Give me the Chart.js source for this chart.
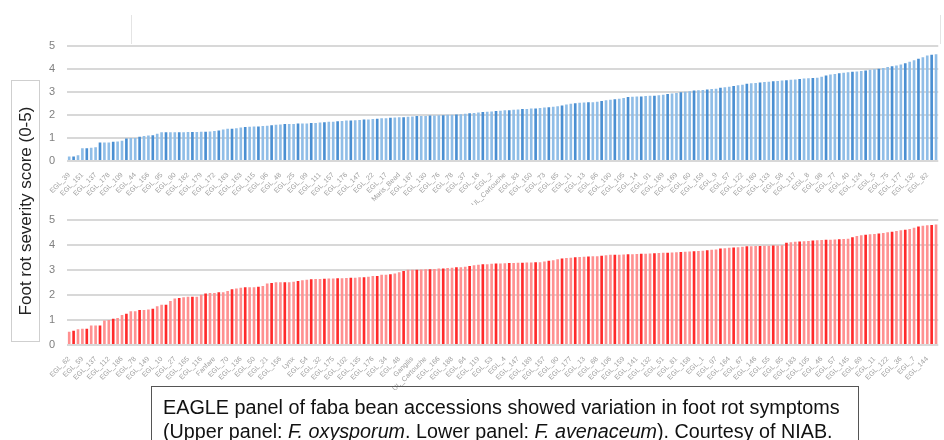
<!DOCTYPE html>
<html>
<head>
<meta charset="utf-8">
<script src="https://cdn.jsdelivr.net/npm/chart.js@4.4.1/dist/chart.umd.min.js"></script>
<style>
  body { margin: 0; background: #fff; width: 944px; height: 440px; overflow: hidden; position: relative; font-family: "Liberation Sans", Arial, sans-serif; }
  canvas { position: absolute; left: 0; }
  #upper { top: 27px; }
  #lower { top: 201px; }
  #ytitle { position: absolute; left: 11px; top: 80px; width: 29px; height: 262px; border: 1px solid #cfcfcf; box-sizing: border-box; }
  #ytitle span { position: absolute; left: 50%; top: 50%; transform: translate(-50%, -50%) rotate(-90deg); white-space: nowrap; font-size: 17px; color: #222; }
  #caption { position: absolute; left: 151px; top: 386px; width: 708px; height: 70px; border: 1px solid #555; box-sizing: border-box; }
  #caption div { position: absolute; left: 11px; white-space: nowrap; font-size: 20px; color: #111; transform-origin: 0 0; }
  .frame { position: absolute; background: #e4e4e4; }
</style>
</head>
<body>
<div class="frame" style="left:131px;top:15px;width:1px;height:29px"></div>
<div class="frame" style="left:940px;top:15px;width:1px;height:29px"></div>
<canvas id="upper" width="944" height="178"></canvas>
<canvas id="lower" width="944" height="189"></canvas>
<div id="ytitle"><span>Foot rot severity score (0-5)</span></div>
<div id="caption">
  <div id="line1" style="top:9px">EAGLE panel of faba bean accessions showed variation in foot rot symptoms</div>
  <div id="line2" style="top:33px">(Upper panel: <i>F. oxysporum</i>. Lower panel: <i>F. avenaceum</i>). Courtesy of NIAB.</div>
</div>
<script>
// every third accession is labelled on the axis
const upperTickLabels = [
  "EGL_39", "EGL_151", "EGL_137", "EGL_178", "EGL_109", "EGL_44", "EGL_156", "EGL_95", "EGL_90", "EGL_182",
  "EGL_179", "EGL_172", "EGL_183", "EGL_163", "EGL_115", "EGL_96", "EGL_48", "EGL_25", "EGL_99", "EGL_111",
  "EGL_157", "EGL_176", "EGL_147", "EGL_22", "EGL_17", "Maris_Bead", "EGL_187", "EGL_130", "EGL_76", "EGL_78",
  "EGL_37", "EGL_16", "EGL_2", "UL_Cartouche", "EGL_83", "EGL_150", "EGL_73", "EGL_85", "EGL_11", "EGL_13",
  "EGL_66", "EGL_190", "EGL_105", "EGL_14", "EGL_91", "EGL_189", "EGL_169", "EGL_60", "EGL_159", "EGL_9",
  "EGL_57", "EGL_122", "EGL_180", "EGL_133", "EGL_58", "EGL_117", "EGL_8", "EGL_98", "EGL_77", "EGL_40",
  "EGL_124", "EGL_5", "EGL_75", "EGL_177", "EGL_132", "EGL_82"
];
const lowerTickLabels = [
  "EGL_62", "EGL_59", "EGL_137", "EGL_112", "EGL_186", "EGL_78", "EGL_149", "EGL_10", "EGL_27", "EGL_165",
  "EGL_116", "Fanfare", "EGL_70", "EGL_136", "EGL_50", "EGL_21", "EGL_156", "Lynx", "EGL_54", "EGL_32",
  "EGL_175", "EGL_102", "EGL_135", "EGL_176", "EGL_34", "EGL_48", "Gangilis", "UL_Cartouche", "EGL_166", "EGL_188",
  "EGL_64", "EGL_119", "EGL_53", "EGL_4", "EGL_147", "EGL_189", "EGL_157", "EGL_90", "EGL_177", "EGL_13",
  "EGL_68", "EGL_106", "EGL_159", "EGL_141", "EGL_132", "EGL_51", "EGL_81", "EGL_158", "EGL_1", "EGL_97",
  "EGL_164", "EGL_67", "EGL_146", "EGL_55", "EGL_65", "EGL_183", "EGL_105", "EGL_46", "EGL_57", "EGL_145",
  "EGL_69", "EGL_11", "EGL_122", "EGL_36", "EGL_7", "EGL_144"
];

// F. oxysporum scores, sorted
const upperScores = [
  0.2, 0.2, 0.25,
  0.55, 0.55, 0.57, 0.6,
  0.8, 0.8, 0.8, 0.83, 0.85, 0.88,
  0.98, 1.0, 1.0, 1.05,
  1.08, 1.1, 1.12, 1.18,
  1.25, 1.25, 1.25, 1.25, 1.25, 1.25, 1.26, 1.26, 1.26, 1.27, 1.27,
  1.28, 1.3, 1.32, 1.37, 1.4,
  1.4, 1.42, 1.45, 1.47, 1.48, 1.5, 1.5,
  1.52, 1.53, 1.55, 1.57, 1.58, 1.6, 1.6, 1.6,
  1.62, 1.62, 1.63, 1.65, 1.65, 1.67, 1.68, 1.7, 1.7, 1.72, 1.73,
  1.75, 1.75, 1.77, 1.78, 1.8, 1.8, 1.82, 1.83, 1.85, 1.85, 1.87, 1.88,
  1.9, 1.9, 1.92, 1.93, 1.95, 1.95, 1.95, 1.97, 1.97, 1.98, 1.98,
  2.0, 2.0, 2.02, 2.03, 2.05, 2.07, 2.08, 2.1, 2.12, 2.13, 2.15,
  2.17, 2.18, 2.2, 2.2, 2.22, 2.23, 2.25, 2.25,
  2.27, 2.28, 2.3, 2.32, 2.33, 2.35, 2.37, 2.4, 2.45, 2.48,
  2.5, 2.52, 2.53, 2.55, 2.55, 2.57, 2.6, 2.63, 2.65,
  2.68, 2.7, 2.73, 2.77, 2.78, 2.8, 2.8, 2.82, 2.83, 2.83,
  2.85, 2.87, 2.9, 2.93, 2.95, 2.98, 3.0,
  3.02, 3.05, 3.07, 3.08, 3.1, 3.12, 3.13,
  3.17, 3.2, 3.22, 3.25, 3.28, 3.3, 3.35,
  3.37, 3.38, 3.4, 3.42, 3.43, 3.45, 3.47, 3.49,
  3.5, 3.52, 3.53, 3.55, 3.57, 3.58, 3.6, 3.61,
  3.65, 3.7, 3.75, 3.77, 3.8, 3.82, 3.85,
  3.87, 3.88, 3.9, 3.92, 3.95, 3.97, 4.0,
  4.03, 4.07, 4.1, 4.14, 4.18, 4.24, 4.3,
  4.37, 4.43, 4.5, 4.57, 4.6, 4.62
];

// F. avenaceum scores, sorted
const lowerScores = [
  0.53, 0.57, 0.63, 0.65, 0.65, 0.78, 0.78, 0.78, 0.98, 1.0, 1.05, 1.08, 1.2,
  1.25, 1.35, 1.35, 1.4, 1.4, 1.42, 1.45, 1.55, 1.6, 1.6, 1.75, 1.85, 1.87,
  1.9, 1.92, 1.92, 1.92, 2.0, 2.05, 2.07, 2.07, 2.1, 2.1, 2.15, 2.22, 2.25,
  2.28, 2.3, 2.3, 2.3, 2.32, 2.35, 2.45, 2.47, 2.5, 2.5, 2.5, 2.5, 2.52,
  2.55, 2.58, 2.6, 2.62, 2.63,
  2.63, 2.64, 2.65, 2.65, 2.66, 2.66, 2.67, 2.68, 2.68, 2.7,
  2.7, 2.72, 2.75, 2.75, 2.8, 2.8, 2.82, 2.85, 2.9, 2.95,
  3.0, 3.0, 3.0, 3.01, 3.02, 3.02, 3.03, 3.05, 3.05, 3.07, 3.08, 3.1, 3.1,
  3.12, 3.15, 3.18, 3.2, 3.22, 3.22, 3.24, 3.25, 3.25, 3.26, 3.27,
  3.27, 3.28, 3.28, 3.29, 3.29, 3.3, 3.3, 3.33, 3.36, 3.38, 3.42, 3.45,
  3.47, 3.48, 3.5, 3.51, 3.52, 3.53, 3.54, 3.54, 3.56, 3.58, 3.6, 3.6,
  3.6, 3.61, 3.62, 3.62, 3.63, 3.64, 3.64, 3.65, 3.66, 3.67, 3.68, 3.68, 3.69, 3.7, 3.71,
  3.72, 3.73, 3.74, 3.75, 3.76, 3.78, 3.8, 3.81, 3.85, 3.86, 3.88, 3.89, 3.9, 3.92, 3.94,
  3.94, 3.95, 3.95, 3.96, 3.96, 3.97, 3.97, 3.98, 4.08, 4.1, 4.12, 4.13, 4.14, 4.15, 4.17, 4.18,
  4.19, 4.2, 4.2, 4.21, 4.22, 4.23, 4.24, 4.3, 4.35, 4.38, 4.4, 4.42, 4.43, 4.45,
  4.47, 4.5, 4.52, 4.55, 4.58, 4.6, 4.63, 4.68, 4.72, 4.75, 4.77, 4.78, 4.8
];

function spreadLabels(tickLabels, count) {
  const out = [];
  for (let i = 0; i < count; i++) {
    out.push(i % 3 === 0 ? (tickLabels[i / 3] || "") : "");
  }
  return out;
}

function createPanel(canvas, labels, values, darkColor, lightColor, axisHeight) {
  new Chart(canvas, {
    type: "bar",
    data: {
      labels: labels,
      datasets: [
        {
          data: values,
          backgroundColor: (ctx) => (ctx.dataIndex % 3 === 1 ? darkColor : lightColor),
          barPercentage: 0.6,
          categoryPercentage: 1,
        },
      ],
    },
    options: {
      responsive: false,
      animation: false,
      layout: { autoPadding: false, padding: 0 },
      plugins: {
        legend: { display: false },
        tooltip: { enabled: false },
      },
      scales: {
        x: {
          grid: { display: false },
          border: { display: false },
          ticks: {
            autoSkip: false,
            minRotation: 45,
            maxRotation: 45,
            padding: 2,
            color: "#a0a0a0",
            font: { family: "Liberation Sans", size: 7 },
          },
          afterFit: (scale) => {
            scale.height = axisHeight;
          },
        },
        y: {
          min: 0,
          max: 5,
          ticks: {
            stepSize: 1,
            padding: 12,
            color: "#808080",
            font: { family: "Liberation Sans", size: 11 },
          },
          grid: { color: "#d8d8d8", lineWidth: 2, drawTicks: false },
          border: { display: false },
          afterFit: (scale) => {
            scale.width = 67;
          },
        },
      },
    },
  });
}

createPanel(
  document.getElementById("upper"),
  spreadLabels(upperTickLabels, upperScores.length),
  upperScores,
  "#4a8fd2",
  "#8fbde7",
  44
);
createPanel(
  document.getElementById("lower"),
  spreadLabels(lowerTickLabels, lowerScores.length),
  lowerScores,
  "#ff2a2a",
  "#ff9090",
  45
);

// stretch caption lines to the width seen in the reference
["line1", "line2"].forEach((id, k) => {
  const el = document.getElementById(id);
  const target = k === 0 ? 677 : 670;
  el.style.transform = "scaleX(" + (target / el.offsetWidth) + ")";
});
</script>
</body>
</html>
